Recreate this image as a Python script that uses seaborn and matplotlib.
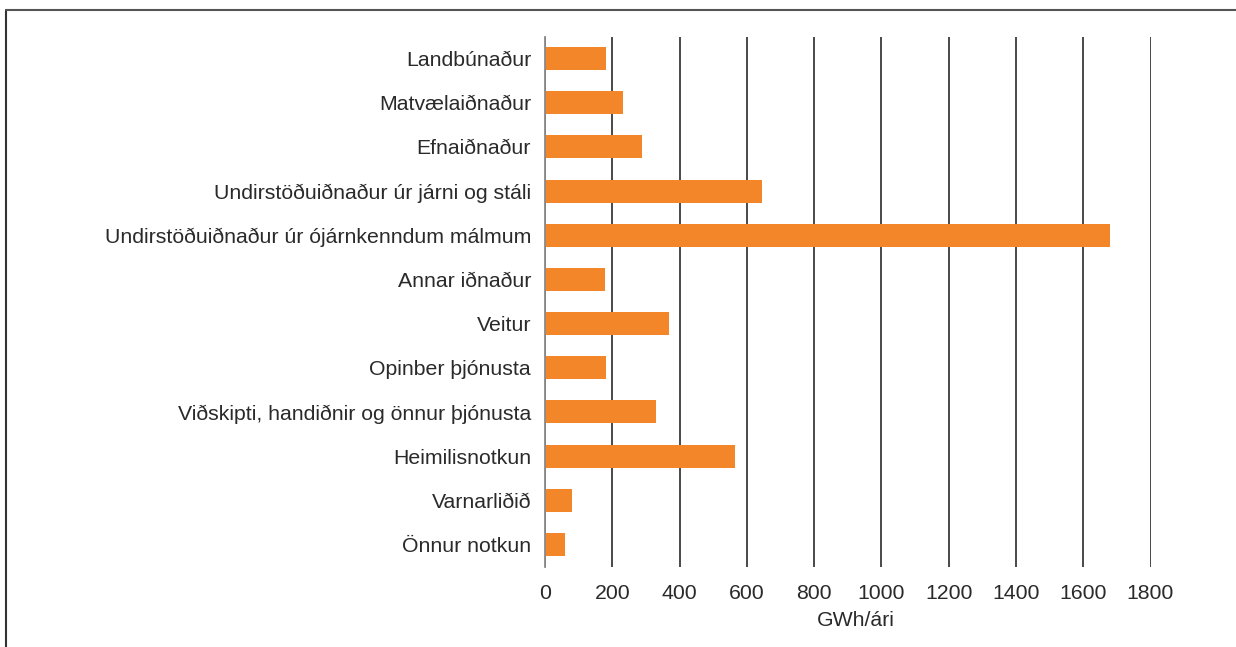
import matplotlib
matplotlib.use("Agg")
import matplotlib.pyplot as plt
import seaborn as sns
import pandas as pd
from matplotlib.lines import Line2D

categories = [
    "Landbúnaður",
    "Matvælaiðnaður",
    "Efnaiðnaður",
    "Undirstöðuiðnaður úr járni og stáli",
    "Undirstöðuiðnaður úr ójárnkenndum málmum",
    "Annar iðnaður",
    "Veitur",
    "Opinber þjónusta",
    "Viðskipti, handiðnir og önnur þjónusta",
    "Heimilisnotkun",
    "Varnarliðið",
    "Önnur notkun",
]
values = [181, 232, 287, 645, 1680, 178, 369, 181, 330, 565, 80, 59]
x_ticks = [0, 200, 400, 600, 800, 1000, 1200, 1400, 1600, 1800]
x_label = "GWh/ári"

sns.set_theme(style="white")
plt.rcParams["font.family"] = ["Liberation Sans", "DejaVu Sans"]

df = pd.DataFrame({"cat": categories, "val": values})

fig = plt.figure(figsize=(12.36, 6.47), dpi=100)
ax = fig.add_axes([545 / 1236, 1 - 566.5 / 647, (1150.5 - 545) / 1236, (566.5 - 36.5) / 647])

sns.barplot(data=df, x="val", y="cat", orient="h", color="#F4862A",
            saturation=1, width=0.52, linewidth=0, ax=ax, zorder=3)

ax.set_xlim(0, 1800)
ax.set_ylim(len(categories) - 0.5, -0.5)
ax.set_xticks(x_ticks)
ax.set_xticklabels([str(t) for t in x_ticks])
ax.xaxis.grid(True, color="#3a3a3a", linewidth=1.3, zorder=0)
ax.yaxis.grid(False)
for s in ["top", "right", "bottom"]:
    ax.spines[s].set_visible(False)
ax.spines["left"].set_color("#8a8a8a")
ax.spines["left"].set_linewidth(1.3)
ax.spines["left"].set_zorder(5)
ax.set_axisbelow(True)

fs = 15.3
ax.tick_params(axis="x", length=0, pad=12.5, labelsize=fs, labelcolor="#2a2a2a")
ax.tick_params(axis="y", length=0, pad=10, labelsize=fs, labelcolor="#2a2a2a")
ax.set_ylabel("")
ax.set_xlabel(x_label, fontsize=fs, color="#2a2a2a", labelpad=6)
ax.xaxis.set_label_coords((856 - 545) / 605.5, -0.084, transform=ax.transAxes)
ax.xaxis.label.set_va("top")

# figure frame (top and left lines)
fig.add_artist(Line2D([5.5 / 1236, 5.5 / 1236], [0, 1 - 10 / 647], transform=fig.transFigure,
                      color="#333333", linewidth=1.5))
fig.add_artist(Line2D([5.5 / 1236, 1], [1 - 10 / 647, 1 - 10 / 647], transform=fig.transFigure,
                      color="#555555", linewidth=1.5))

fig.savefig("out.png", dpi=100)
